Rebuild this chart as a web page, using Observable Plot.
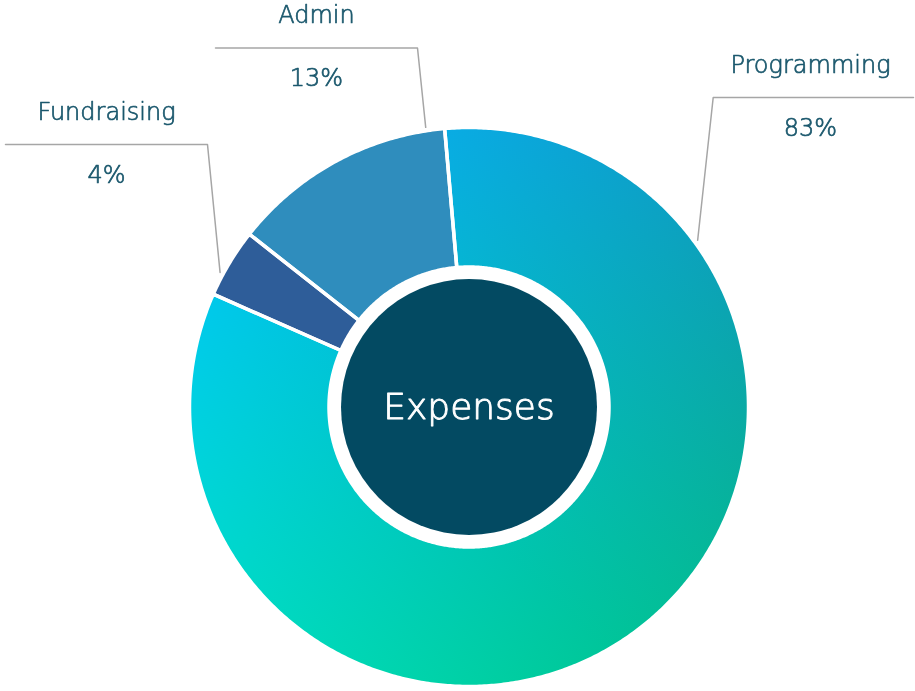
<!DOCTYPE html>
<html><head><meta charset="utf-8">
<script src="https://cdn.jsdelivr.net/npm/d3@7"></script>
<script src="https://cdn.jsdelivr.net/npm/@observablehq/plot@0.6"></script>
<style>html,body{margin:0;padding:0;background:#fff;overflow:hidden;}</style>
</head><body><div id="chart"></div>
<script>
// ---- data ----
const categories = ["Programming", "Fundraising", "Admin"];
const values = [83, 4, 13];
const valueLabels = ["83%", "4%", "13%"];
const centerLabel = "Expenses";

// ---- layout / style ----
const W = 915, H = 691;
const cx = 468.5, cy = 406.5, rOuter = 279.5, rInner = 140, rHole = 128, rLeader = 283;
const startDeg = -5;
const sliceFills = ["url(#progBase)", "#2e5d99", "#2f8dbd"];
const textColor = "#1b586d";
const labelLayout = [
  {elbowX: 712.7, lineY: 97, endX: 913, textX: 810, leaderDeg: 53.9},
  {elbowX: 207, lineY: 144, endX: 5, textX: 106, leaderDeg: -61.6},
  {elbowX: 417, lineY: 47.5, endX: 215, textX: 316, leaderDeg: -8.8}
];

const rad = d => d * Math.PI / 180;
const pt = (a, r) => ({x: cx + r * Math.sin(a), y: cy - r * Math.cos(a)});
const arcs = d3.pie().sort(null).startAngle(rad(startDeg)).endAngle(rad(startDeg) + 2 * Math.PI)(values);

function slicePoly(a0, a1, name) {
  const n = Math.max(2, Math.ceil((a1 - a0) / (Math.PI / 360)));
  const pts = [];
  for (let i = 0; i <= n; i++) pts.push({...pt(a0 + (a1 - a0) * i / n, rOuter), name});
  for (let i = n; i >= 0; i--) pts.push({...pt(a0 + (a1 - a0) * i / n, rInner), name});
  return pts;
}
const slices = arcs.map((a, i) => ({name: categories[i], pts: slicePoly(a.startAngle, a.endAngle, categories[i])}));
const allPts = slices.flatMap(s => s.pts);

const leaderPts = categories.flatMap((name, i) => {
  const L = labelLayout[i];
  const s = pt(rad(L.leaderDeg), rLeader);
  return [{...s, name}, {x: L.elbowX, y: L.lineY, name}, {x: L.endX, y: L.lineY, name}];
});
const nameTexts = categories.map((name, i) => ({x: labelLayout[i].textX, y: labelLayout[i].lineY - 25, t: name}));
const valTexts = valueLabels.map((v, i) => ({x: labelLayout[i].textX, y: labelLayout[i].lineY + 38, t: v}));

const font = "DejaVu Sans";
const textStyle = {fontFamily: font, fontWeight: 300, textAnchor: "middle", strokeWidth: 0.7, paintOrder: "fill"};
const svg = Plot.plot({
  width: W, height: H, margin: 0,
  x: {domain: [0, W], range: [0, W], axis: null},
  y: {domain: [0, H], range: [0, H], axis: null},
  style: {fontFamily: font, background: "white", overflow: "visible"},
  marks: [
    ...slices.map((s, i) => Plot.line(s.pts, {x: "x", y: "y", fill: sliceFills[i], stroke: "none", curve: "linear-closed"})),
    Plot.line(slices[0].pts, {x: "x", y: "y", fill: "url(#progBlue)", stroke: "none", curve: "linear-closed", mixBlendMode: "multiply"}),
    Plot.line(allPts, {x: "x", y: "y", z: "name", fill: "none", stroke: "white", strokeWidth: 3.5, curve: "linear-closed"}),
    Plot.dot([{x: cx, y: cy}], {x: "x", y: "y", r: rHole, fill: "#034a62", stroke: "none"}),
    Plot.text([{x: cx, y: cy, t: centerLabel}], {x: "x", y: "y", text: "t", fill: "white", stroke: "white", fontSize: 36, lineAnchor: "middle", ...textStyle, strokeWidth: 0.9}),
    Plot.line(leaderPts, {x: "x", y: "y", z: "name", stroke: "#a6a6a6", strokeWidth: 1.5, curve: "linear"}),
    Plot.text(nameTexts, {x: "x", y: "y", text: "t", fill: textColor, stroke: textColor, fontSize: 24, lineAnchor: "bottom", ...textStyle}),
    Plot.text(valTexts, {x: "x", y: "y", text: "t", fill: textColor, stroke: textColor, fontSize: 24, lineAnchor: "bottom", ...textStyle})
  ]
});
const defs = document.createElementNS("http://www.w3.org/2000/svg", "defs");
defs.innerHTML = `
<linearGradient id="progBase" x1="1" y1="0" x2="0" y2="1">
  <stop offset="0" stop-color="rgb(16,150,255)"/>
  <stop offset="0.6" stop-color="rgb(0,198,255)"/>
  <stop offset="1" stop-color="rgb(0,226,255)"/>
</linearGradient>
<linearGradient id="progBlue" x1="0" y1="0" x2="1" y2="1">
  <stop offset="0" stop-color="rgb(255,255,255)"/>
  <stop offset="1" stop-color="rgb(255,255,135)"/>
</linearGradient>`;
svg.insertBefore(defs, svg.firstChild);
document.getElementById("chart").appendChild(svg);
</script>
</body></html>
